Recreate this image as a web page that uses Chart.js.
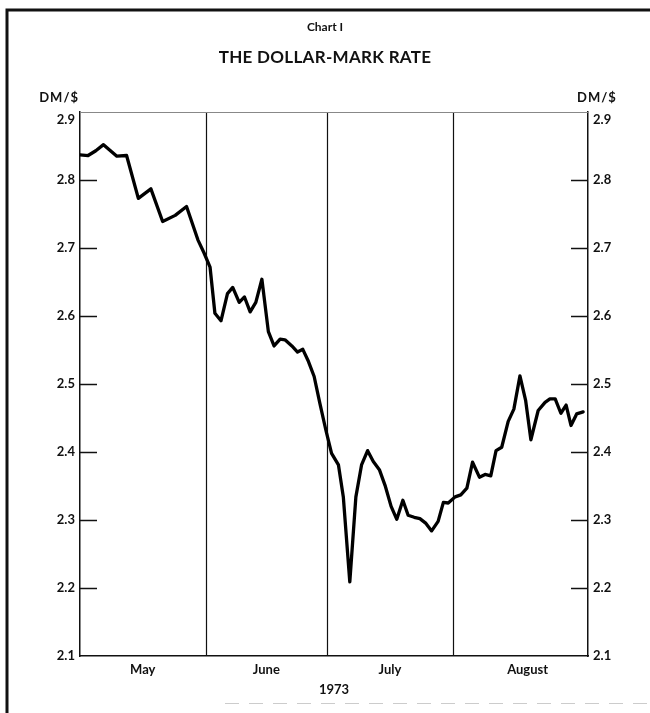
<!DOCTYPE html>
<html><head><meta charset="utf-8">
<script src="https://cdn.jsdelivr.net/npm/chart.js@4/dist/chart.umd.min.js"></script>
<style>html,body{margin:0;padding:0;background:#fff}#wrap{width:650px;height:713px;position:relative}</style>
</head><body><div id="wrap"><canvas id="c" width="650" height="713"></canvas></div>
<script>
// Day offsets from 1 May 1973 (business-day observations) and DM per US dollar
const days = [0, 2.0, 3.9, 5.8, 9.1, 11.5, 14.4, 17.5, 20.4, 23.5, 26.3, 29.1, 30.6, 32.1,
  33.3, 34.8, 36.4, 37.7, 39.3, 40.6, 42.0, 43.4, 44.9, 46.5, 47.9, 49.4, 50.6, 52.3, 53.7, 55.0, 56.4, 57.8, 59.2, 60.7,
  62.1, 63.8, 65.0, 66.6, 68.1, 69.5, 71.0, 72.4, 73.9, 75.3, 76.8, 78.2, 79.7, 81.0, 82.5, 83.9, 85.4, 86.8, 88.4, 89.7, 90.9,
  92.6, 94.0, 95.5, 96.9, 98.6, 100.0, 101.4, 102.7, 104.1, 105.7, 107.1, 108.6, 110.0, 111.3, 113.1, 114.8, 116.0, 117.3, 118.7, 120.0, 121.2, 122.6, 124.2];
const rates = [2.837, 2.836, 2.843, 2.852, 2.835, 2.836, 2.773, 2.787, 2.739, 2.748, 2.761, 2.712, 2.693, 2.672,
  2.604, 2.593, 2.633, 2.642, 2.620, 2.628, 2.606, 2.620, 2.654, 2.577, 2.556, 2.566, 2.565, 2.556, 2.547, 2.551, 2.533, 2.511, 2.472, 2.432,
  2.398, 2.381, 2.334, 2.209, 2.334, 2.381, 2.402, 2.386, 2.374, 2.351, 2.320, 2.301, 2.329, 2.307, 2.304, 2.302, 2.295, 2.284, 2.298, 2.326, 2.325,
  2.334, 2.337, 2.347, 2.385, 2.363, 2.367, 2.365, 2.402, 2.407, 2.445, 2.463, 2.512, 2.476, 2.418, 2.461, 2.473, 2.478, 2.478, 2.457, 2.469, 2.439, 2.456, 2.459];
const monthNames = ['May', 'June', 'July', 'August'];
const monthLabelDays = [15.5, 46, 76.5, 110.5];
const monthStartDays = [31, 61, 92];
const yTicks = [2.1, 2.2, 2.3, 2.4, 2.5, 2.6, 2.7, 2.8, 2.9];
const xMax = 125.4;
const yearLabel = '1973';
const chartNumber = 'Chart I';
const chartTitle = 'THE DOLLAR-MARK RATE';
const unitLabel = 'DM/$';

const FONT = 'Lato, "DejaVu Sans", sans-serif';

const decor = {
  id: 'decor',
  beforeDatasetsDraw(chart) {
    const {ctx, chartArea: a, scales} = chart;
    const x = scales.x;
    ctx.save();
    ctx.strokeStyle = '#111';
    ctx.lineWidth = 1.2;
    monthStartDays.forEach(d => {
      const px = Math.round(x.getPixelForValue(d)) + 0.5;
      ctx.beginPath(); ctx.moveTo(px, a.top); ctx.lineTo(px, a.bottom); ctx.stroke();
    });
    // faint top border
    ctx.strokeStyle = '#888';
    ctx.lineWidth = 1;
    ctx.beginPath(); ctx.moveTo(a.left, a.top + 0.5); ctx.lineTo(a.right, a.top + 0.5); ctx.stroke();
    // inward tick marks
    ctx.strokeStyle = '#111';
    ctx.lineWidth = 1.5;
    const yl = scales.y;
    yTicks.forEach(v => {
      if (v === yTicks[0] || v === yTicks[yTicks.length - 1]) return;
      const py = Math.round(yl.getPixelForValue(v)) + 0.5;
      ctx.beginPath(); ctx.moveTo(a.left, py); ctx.lineTo(a.left + 17, py); ctx.stroke();
      ctx.beginPath(); ctx.moveTo(a.right - 17, py); ctx.lineTo(a.right, py); ctx.stroke();
    });
    ctx.restore();
  },
  afterDraw(chart) {
    const {ctx, chartArea: a} = chart;
    ctx.save();
    ctx.fillStyle = '#111';
    ctx.textAlign = 'center';
    ctx.textBaseline = 'middle';
    ctx.font = 'bold 12px ' + FONT;
    ctx.fillText(chartNumber, 325, 27);
    ctx.font = 'bold 17px ' + FONT;
    if ('letterSpacing' in ctx) ctx.letterSpacing = '0.3px';
    ctx.fillText(chartTitle, 325, 58);
    if ('letterSpacing' in ctx) ctx.letterSpacing = '1px';
    ctx.font = 'bold 13px ' + FONT;
    ctx.textAlign = 'right';
    ctx.fillText(unitLabel, 79, 98);
    ctx.textAlign = 'left';
    ctx.fillText(unitLabel, 577, 98);
    if ('letterSpacing' in ctx) ctx.letterSpacing = '0px';
    ctx.textAlign = 'center';
    ctx.font = 'bold 13px ' + FONT;
    ctx.fillText(yearLabel, (a.left + a.right) / 2, 690);
    // frame
    ctx.strokeStyle = '#111';
    ctx.lineWidth = 3;
    ctx.beginPath(); ctx.moveTo(7, 713); ctx.lineTo(7, 10); ctx.lineTo(650, 10); ctx.stroke();
    ctx.strokeStyle = '#ccc';
    ctx.lineWidth = 1;
    ctx.setLineDash([14, 10]);
    ctx.beginPath(); ctx.moveTo(225, 703.5); ctx.lineTo(650, 703.5); ctx.stroke();
    ctx.restore();
  }
};

const tickFont = {family: FONT, size: 13, weight: 'bold'};
const yLabel = v => v === 2.9 ? ['', '2.9'] : v.toFixed(1);

new Chart(document.getElementById('c'), {
  type: 'line',
  data: {
    datasets: [{
      data: days.map((d, i) => ({x: d, y: rates[i]})),
      borderColor: '#000',
      borderWidth: 3.3,
      pointRadius: 0,
      tension: 0,
      borderJoinStyle: 'round',
      borderCapStyle: 'round',
      fill: false
    }]
  },
  options: {
    responsive: false,
    devicePixelRatio: 1,
    animation: false,
    layout: {padding: {top: 112, left: 0, right: 0, bottom: 0}},
    plugins: {legend: {display: false}, tooltip: {enabled: false}, title: {display: false}},
    scales: {
      x: {
        type: 'linear', min: 0, max: xMax,
        afterBuildTicks: s => { s.ticks = monthLabelDays.map(v => ({value: v})); },
        afterFit: s => { s.height = 57; },
        ticks: {
          autoSkip: false, maxRotation: 0, padding: 6, color: '#111', font: tickFont,
          callback: v => monthNames[monthLabelDays.indexOf(v)]
        },
        grid: {display: false, drawTicks: false},
        border: {display: true, color: '#111', width: 1.5}
      },
      y: {
        type: 'linear', position: 'left', min: 2.1, max: 2.9,
        afterBuildTicks: s => { s.ticks = yTicks.map(v => ({value: v})); },
        afterFit: s => { s.width = 80; },
        ticks: {padding: 5, color: '#111', font: tickFont, callback: yLabel},
        grid: {display: false, drawTicks: false},
        border: {display: true, color: '#111', width: 1.5}
      },
      y2: {
        type: 'linear', position: 'right', min: 2.1, max: 2.9,
        afterBuildTicks: s => { s.ticks = yTicks.map(v => ({value: v})); },
        afterFit: s => { s.width = 62; },
        ticks: {padding: 5, color: '#111', font: tickFont, callback: yLabel},
        grid: {display: false, drawTicks: false},
        border: {display: true, color: '#111', width: 1.5}
      }
    }
  },
  plugins: [decor]
});
</script>
</body></html>
